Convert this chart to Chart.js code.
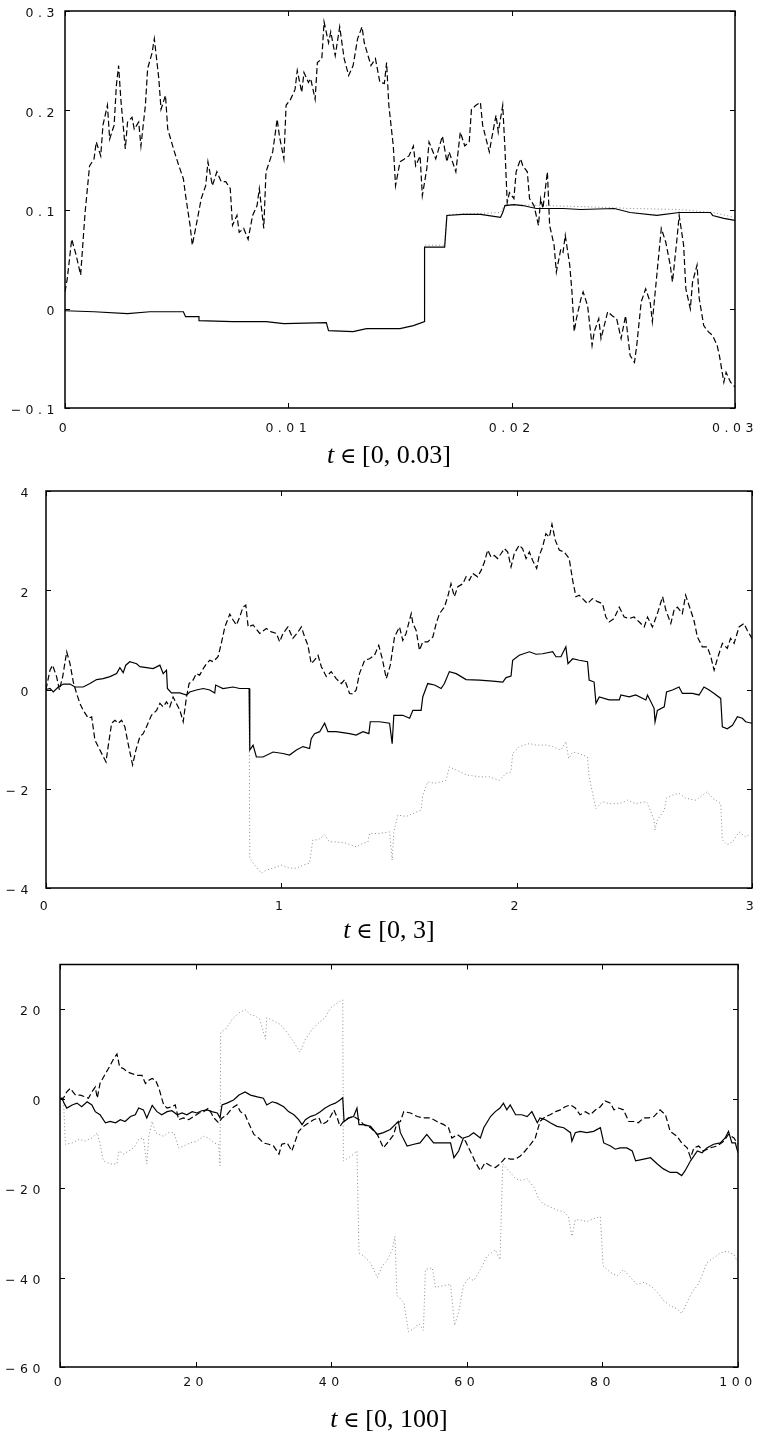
<!DOCTYPE html>
<html>
<head>
<meta charset="utf-8">
<script src="https://cdn.jsdelivr.net/npm/chart.js@4.4.1/dist/chart.umd.min.js"></script>
<style>
    body   { margin:0 ; background:#fff ; width:763px ; height:1435px ; position:relative ; overflow:hidden ; }
    canvas { position:absolute ; left:0 ; }
</style>
</head>
<body>
<canvas id="panel1" width="763" height="470" style="top:0px"></canvas>
<canvas id="panel2" width="763" height="480" style="top:470px"></canvas>
<canvas id="panel3" width="763" height="485" style="top:950px"></canvas>
<script>
// ---------------- Data : panel 1, t in [0, 0.03] -----------------------------
const p1XTicks  = [ 0, 0.01, 0.02, 0.03 ] ;
const p1XLabels = [ '0', '0.01', '0.02', '0.03' ] ;
const p1YTicks  = [ -0.1, 0, 0.1, 0.2, 0.3 ] ;
const p1YLabels = [ '\u22120.1', '0', '0.1', '0.2', '0.3' ] ;

const p1Solid = [
    [0,-0.002],[0.0013,-0.003],[0.0028,-0.005],[0.0038,-0.003],[0.0053,-0.003],[0.0054,-0.008],
    [0.0060,-0.008],[0.0060,-0.012],[0.0075,-0.013],[0.0090,-0.013],[0.0098,-0.015],[0.0117,-0.014],
    [0.0118,-0.022],[0.0129,-0.023],[0.0135,-0.020],[0.0150,-0.020],[0.0156,-0.017],[0.0161,-0.013],
    [0.0161,0.062],[0.0170,0.062],[0.0171,0.094],[0.0178,0.095],[0.0186,0.095],[0.0195,0.092],
    [0.0196,0.097],[0.0197,0.104],[0.0201,0.105],[0.0205,0.104],[0.0211,0.101],[0.0223,0.101],
    [0.0231,0.100],[0.0246,0.101],[0.0253,0.097],[0.0265,0.094],[0.0275,0.097],[0.0289,0.097],
    [0.0290,0.094],[0.0295,0.091],[0.0300,0.089]
] ;
const p1Dashed = [
    [0,0.017],[0.0001,0.030],[0.0003,0.070],[0.0005,0.054],[0.0007,0.034],[0.0009,0.097],[0.0011,0.144],
    [0.0013,0.151],[0.0014,0.168],[0.0016,0.154],[0.0017,0.185],[0.0019,0.205],[0.0020,0.171],[0.0022,0.185],
    [0.0023,0.225],[0.0024,0.245],[0.0025,0.211],[0.0027,0.161],[0.0028,0.188],[0.0030,0.193],[0.0031,0.181],
    [0.0033,0.188],[0.0034,0.164],[0.0036,0.205],[0.0037,0.242],[0.0039,0.258],[0.0040,0.272],[0.0042,0.232],
    [0.0043,0.201],[0.0045,0.215],[0.0046,0.181],[0.0049,0.158],[0.0051,0.144],[0.0053,0.131],[0.0054,0.114],
    [0.0056,0.084],[0.0057,0.064],[0.0059,0.087],[0.0061,0.111],[0.0063,0.124],[0.0064,0.148],[0.0066,0.124],
    [0.0068,0.138],[0.0070,0.128],[0.0072,0.128],[0.0074,0.121],[0.0075,0.084],[0.0077,0.094],[0.0078,0.077],
    [0.0080,0.081],[0.0082,0.070],[0.0084,0.094],[0.0086,0.104],[0.0087,0.121],[0.0089,0.081],[0.0090,0.138],
    [0.0093,0.158],[0.0095,0.191],[0.0096,0.174],[0.0098,0.151],[0.0099,0.205],[0.0101,0.211],[0.0103,0.221],
    [0.0104,0.240],[0.0106,0.218],[0.0107,0.238],[0.0109,0.228],[0.0110,0.232],[0.0112,0.211],[0.0113,0.248],
    [0.0115,0.252],[0.0116,0.289],[0.0118,0.268],[0.0119,0.279],[0.0121,0.255],[0.0123,0.284],[0.0125,0.252],
    [0.0127,0.235],[0.0129,0.245],[0.0131,0.272],[0.0133,0.284],[0.0134,0.268],[0.0137,0.245],[0.0139,0.252],
    [0.0141,0.228],[0.0143,0.227],[0.0144,0.248],[0.0145,0.205],[0.0147,0.164],[0.0148,0.124],[0.0150,0.148],
    [0.0152,0.151],[0.0154,0.154],[0.0156,0.164],[0.0157,0.144],[0.0159,0.154],[0.0160,0.114],[0.0162,0.141],
    [0.0163,0.168],[0.0166,0.151],[0.0169,0.174],[0.0171,0.148],[0.0172,0.158],[0.0175,0.138],[0.0177,0.178],
    [0.0179,0.164],[0.0181,0.168],[0.0182,0.201],[0.0184,0.205],[0.0186,0.208],[0.0187,0.185],[0.0190,0.158],
    [0.0191,0.171],[0.0193,0.195],[0.0194,0.178],[0.0196,0.205],[0.0197,0.161],[0.0198,0.107],[0.0199,0.117],
    [0.0201,0.111],[0.0202,0.138],[0.0204,0.151],[0.0205,0.144],[0.0207,0.138],[0.0208,0.111],[0.0210,0.104],
    [0.0212,0.084],[0.0213,0.111],[0.0214,0.101],[0.0216,0.138],[0.0217,0.084],[0.0219,0.064],[0.0220,0.037],
    [0.0222,0.060],[0.0223,0.057],[0.0224,0.074],[0.0226,0.044],[0.0227,0.017],[0.0228,-0.023],[0.0229,-0.010],
    [0.0231,0.010],[0.0232,0.017],[0.0234,0.003],[0.0236,-0.037],[0.0237,-0.023],[0.0239,-0.010],[0.0240,-0.030],
    [0.0243,-0.003],[0.0245,-0.007],[0.0247,-0.010],[0.0249,-0.030],[0.0251,-0.007],[0.0253,-0.047],[0.0255,-0.054],
    [0.0256,-0.037],[0.0258,0.007],[0.0260,0.020],[0.0262,0.007],[0.0263,-0.013],[0.0265,0.034],[0.0267,0.081],
    [0.0269,0.067],[0.0271,0.044],[0.0272,0.027],[0.0274,0.070],[0.0275,0.094],[0.0277,0.064],[0.0278,0.020],
    [0.0280,0.000],[0.0281,0.027],[0.0283,0.044],[0.0284,0.010],[0.0286,-0.017],[0.0288,-0.023],[0.0290,-0.027],
    [0.0292,-0.037],[0.0293,-0.047],[0.0295,-0.074],[0.0296,-0.064],[0.0298,-0.074],[0.0300,-0.079]
] ;
const p1Dotted = [
    [0.0161,-0.013],[0.0161,0.064],[0.0170,0.064],[0.0171,0.095],[0.0186,0.096],[0.0195,0.097],
    [0.0197,0.105],[0.0231,0.103],[0.0254,0.101],[0.0275,0.100],[0.0290,0.097],[0.0300,0.092]
] ;

// ---------------- Data : panel 2, t in [0, 3] --------------------------------
const p2XTicks  = [ 0, 1, 2, 3 ] ;
const p2XLabels = [ '0', '1', '2', '3' ] ;
const p2YTicks  = [ -4, -2, 0, 2, 4 ] ;
const p2YLabels = [ '\u22124', '\u22122', '0', '2', '4' ] ;

const p2Solid = [
    [0,0],[0.017,0.02],[0.031,-0.05],[0.052,0.05],[0.074,0.11],[0.102,0.11],[0.123,0.05],[0.158,0.05],
    [0.187,0.12],[0.215,0.20],[0.243,0.22],[0.272,0.26],[0.300,0.32],[0.314,0.44],[0.328,0.34],[0.339,0.49],
    [0.356,0.56],[0.385,0.52],[0.399,0.46],[0.427,0.44],[0.455,0.42],[0.484,0.49],[0.498,0.32],[0.512,0.39],
    [0.516,0.02],[0.533,-0.07],[0.569,-0.07],[0.597,-0.11],[0.611,-0.05],[0.639,-0.01],[0.668,0.02],[0.696,-0.01],
    [0.717,-0.07],[0.721,0.09],[0.752,0.02],[0.795,0.05],[0.823,0.02],[0.863,0.02],[0.866,-1.22],[0.880,-1.12],
    [0.894,-1.36],[0.922,-1.36],[0.965,-1.26],[1.007,-1.29],[1.035,-1.32],[1.064,-1.22],[1.092,-1.15],[1.120,-1.19],
    [1.127,-0.99],[1.141,-0.89],[1.163,-0.85],[1.184,-0.68],[1.198,-0.85],[1.233,-0.85],[1.290,-0.89],[1.318,-0.92],
    [1.347,-0.85],[1.372,-0.89],[1.378,-0.65],[1.417,-0.65],[1.460,-0.68],[1.471,-1.09],[1.478,-0.52],[1.516,-0.52],
    [1.545,-0.58],[1.559,-0.42],[1.594,-0.42],[1.601,-0.15],[1.622,0.12],[1.651,0.09],[1.679,0.02],[1.693,0.12],
    [1.714,0.36],[1.743,0.32],[1.785,0.20],[1.842,0.19],[1.898,0.17],[1.941,0.15],[1.955,0.24],[1.976,0.27],
    [1.983,0.59],[2.011,0.69],[2.054,0.76],[2.082,0.71],[2.110,0.72],[2.153,0.76],[2.167,0.66],[2.188,0.66],
    [2.209,0.86],[2.218,0.52],[2.238,0.62],[2.266,0.59],[2.301,0.56],[2.308,0.19],[2.329,0.15],[2.337,-0.28],
    [2.351,-0.15],[2.393,-0.21],[2.436,-0.21],[2.443,-0.11],[2.478,-0.15],[2.506,-0.11],[2.549,-0.21],[2.556,-0.11],
    [2.584,-0.38],[2.588,-0.65],[2.598,-0.42],[2.627,-0.35],[2.637,-0.05],[2.662,-0.01],[2.690,0.05],[2.704,-0.08],
    [2.747,-0.08],[2.775,-0.11],[2.796,0.05],[2.818,-0.01],[2.839,-0.08],[2.867,-0.18],[2.874,-0.75],[2.895,-0.79],
    [2.917,-0.72],[2.938,-0.55],[2.959,-0.58],[2.973,-0.65],[3.0,-0.68]
] ;
const p2Dashed = [
    [0,0],[0.017,0.39],[0.028,0.49],[0.045,0.26],[0.057,-0.01],[0.071,0.26],[0.088,0.76],[0.102,0.52],
    [0.116,0.15],[0.130,-0.08],[0.144,-0.28],[0.158,-0.42],[0.180,-0.58],[0.194,-0.55],[0.208,-1.02],[0.229,-1.22],
    [0.255,-1.46],[0.264,-1.15],[0.279,-0.68],[0.293,-0.62],[0.307,-0.68],[0.321,-0.62],[0.335,-0.75],[0.349,-1.09],
    [0.368,-1.52],[0.382,-1.22],[0.399,-0.95],[0.413,-0.89],[0.427,-0.75],[0.448,-0.52],[0.470,-0.42],[0.484,-0.28],
    [0.498,-0.35],[0.512,-0.25],[0.526,-0.35],[0.540,-0.15],[0.554,-0.28],[0.569,-0.42],[0.583,-0.65],[0.597,-0.15],
    [0.608,0.12],[0.625,0.19],[0.639,0.32],[0.653,0.29],[0.668,0.42],[0.682,0.52],[0.696,0.59],[0.710,0.56],
    [0.731,0.66],[0.745,0.93],[0.760,1.26],[0.781,1.52],[0.795,1.40],[0.809,1.30],[0.823,1.46],[0.837,1.66],
    [0.849,1.70],[0.859,1.26],[0.880,1.30],[0.908,1.13],[0.936,1.23],[0.958,1.16],[0.979,1.13],[0.993,0.96],
    [1.007,1.13],[1.028,1.26],[1.049,1.03],[1.071,1.16],[1.085,1.26],[1.099,1.06],[1.113,0.89],[1.127,0.52],
    [1.141,0.59],[1.156,0.69],[1.170,0.46],[1.191,0.26],[1.212,0.36],[1.233,0.22],[1.255,0.12],[1.269,0.20],
    [1.290,-0.08],[1.304,-0.09],[1.318,-0.01],[1.332,0.32],[1.354,0.59],[1.375,0.62],[1.396,0.69],[1.414,0.89],
    [1.429,0.62],[1.446,0.22],[1.463,0.49],[1.481,1.06],[1.502,1.26],[1.516,0.99],[1.530,1.13],[1.552,1.53],
    [1.559,1.33],[1.573,1.19],[1.587,0.79],[1.601,0.96],[1.622,0.96],[1.644,1.06],[1.658,1.33],[1.672,1.53],
    [1.693,1.66],[1.707,1.87],[1.721,2.13],[1.735,1.87],[1.750,2.07],[1.771,2.13],[1.785,2.27],[1.799,2.20],
    [1.813,2.34],[1.834,2.27],[1.849,2.40],[1.863,2.57],[1.877,2.81],[1.891,2.67],[1.905,2.70],[1.919,2.64],
    [1.934,2.74],[1.948,2.84],[1.962,2.77],[1.976,2.47],[1.990,2.74],[2.011,2.91],[2.025,2.84],[2.040,2.64],
    [2.054,2.77],[2.068,2.60],[2.085,2.44],[2.096,2.70],[2.110,2.87],[2.124,3.14],[2.139,3.07],[2.150,3.33],
    [2.164,3.01],[2.181,2.81],[2.202,2.77],[2.223,2.64],[2.238,2.20],[2.252,1.87],[2.266,1.90],[2.280,1.83],
    [2.301,1.73],[2.322,1.83],[2.344,1.77],[2.365,1.73],[2.379,1.46],[2.393,1.36],[2.414,1.43],[2.436,1.66],
    [2.457,1.46],[2.478,1.43],[2.499,1.46],[2.521,1.36],[2.542,1.26],[2.556,1.46],[2.577,1.26],[2.598,1.53],
    [2.620,1.87],[2.634,1.60],[2.655,1.33],[2.669,1.60],[2.683,1.66],[2.704,1.53],[2.718,1.90],[2.739,1.60],
    [2.753,1.40],[2.768,1.06],[2.789,0.86],[2.810,0.86],[2.825,0.66],[2.839,0.39],[2.853,0.62],[2.874,0.93],
    [2.895,0.83],[2.909,1.03],[2.924,0.93],[2.945,1.26],[2.966,1.33],[2.980,1.19],[3.0,1.03]
] ;
const p2Dotted = [
    [0.863,0.02],[0.866,-3.40],[0.887,-3.54],[0.915,-3.70],[0.936,-3.64],[0.965,-3.60],[1.000,-3.54],[1.035,-3.60],
    [1.064,-3.60],[1.092,-3.54],[1.120,-3.50],[1.134,-3.03],[1.156,-3.03],[1.184,-2.93],[1.205,-3.07],[1.233,-3.07],
    [1.276,-3.10],[1.318,-3.17],[1.347,-3.10],[1.368,-3.07],[1.375,-2.90],[1.417,-2.90],[1.460,-2.87],[1.471,-3.44],
    [1.478,-2.87],[1.495,-2.53],[1.530,-2.56],[1.559,-2.50],[1.594,-2.43],[1.601,-2.13],[1.622,-1.86],[1.651,-1.89],
    [1.679,-1.86],[1.700,-1.83],[1.714,-1.56],[1.743,-1.62],[1.785,-1.72],[1.842,-1.76],[1.884,-1.76],[1.926,-1.83],
    [1.955,-1.69],[1.976,-1.66],[1.983,-1.29],[2.011,-1.15],[2.054,-1.09],[2.082,-1.12],[2.124,-1.12],[2.153,-1.15],
    [2.188,-1.22],[2.209,-1.05],[2.221,-1.39],[2.238,-1.26],[2.266,-1.29],[2.301,-1.36],[2.308,-1.76],[2.329,-2.23],
    [2.337,-2.40],[2.365,-2.26],[2.393,-2.30],[2.436,-2.30],[2.471,-2.23],[2.506,-2.30],[2.549,-2.26],[2.556,-2.30],
    [2.584,-2.63],[2.588,-2.83],[2.598,-2.63],[2.627,-2.43],[2.637,-2.19],[2.662,-2.13],[2.690,-2.09],[2.718,-2.19],
    [2.761,-2.23],[2.810,-2.06],[2.832,-2.19],[2.867,-2.30],[2.874,-3.03],[2.895,-3.13],[2.917,-3.07],[2.945,-2.87],
    [2.973,-2.97],[2.987,-2.93]
] ;

// ---------------- Data : panel 3, t in [0, 100] ------------------------------
const p3XTicks  = [ 0, 20, 40, 60, 80, 100 ] ;
const p3XLabels = [ '0', '20', '40', '60', '80', '100' ] ;
const p3YTicks  = [ -60, -40, -20, 0, 20 ] ;
const p3YLabels = [ '\u221260', '\u221240', '\u221220', '0', '20' ] ;

const p3Solid = [
    [0,0],[0.3,0.1],[0.6,-1.0],[1.0,-2.1],[1.8,-1.4],[2.5,-1.0],[3.2,-1.8],[4.0,-0.7],[4.7,-1.4],[5.2,-2.9],
    [5.9,-3.6],[6.7,-5.4],[7.4,-5.1],[8.2,-5.4],[8.9,-4.7],[9.6,-5.1],[10.4,-4.0],[11.1,-3.6],[11.6,-2.1],
    [12.3,-2.5],[12.8,-4.3],[13.6,-1.5],[14.3,-2.9],[15.0,-3.6],[15.8,-2.9],[16.5,-2.7],[17.3,-3.6],[18.0,-3.2],
    [18.7,-3.6],[19.5,-2.9],[20.2,-3.2],[20.9,-2.7],[21.7,-2.5],[22.4,-2.9],[23.2,-3.2],[23.6,-4.3],[23.9,-1.4],
    [24.6,-1.0],[25.6,-0.3],[26.4,0.8],[27.3,1.5],[28.1,0.8],[29.1,0.4],[30.0,0.1],[30.5,-1.4],[31.3,-0.7],
    [32.0,-1.0],[33.0,-1.8],[33.7,-2.9],[34.5,-3.6],[35.2,-4.7],[35.7,-5.8],[36.2,-4.7],[36.9,-4.0],[37.7,-3.6],
    [38.4,-2.9],[39.1,-2.1],[39.9,-1.4],[40.6,-1.0],[41.3,-0.3],[41.7,0.2],[41.9,-5.1],[42.6,-4.3],[43.3,-4.0],
    [43.8,-2.1],[44.1,-5.8],[44.8,-5.8],[45.8,-6.2],[46.8,-8.0],[47.7,-7.6],[48.7,-6.9],[49.7,-5.4],[49.9,-5.1],
    [50.2,-7.6],[51.2,-10.6],[52.2,-10.2],[53.1,-9.9],[54.1,-8.0],[55.1,-9.9],[57.1,-9.9],[57.6,-9.9],[58.1,-13.2],
    [58.8,-11.7],[59.5,-8.8],[60.3,-8.4],[61.0,-7.6],[62.0,-8.8],[62.5,-6.5],[63.5,-4.0],[64.2,-2.9],[64.9,-2.1],
    [65.4,-1.0],[65.9,-2.5],[66.4,-1.4],[67.2,-3.6],[68.1,-3.6],[68.9,-4.0],[69.6,-2.9],[70.4,-5.4],[70.8,-4.3],
    [71.6,-4.7],[72.3,-5.4],[73.3,-6.2],[74.3,-6.5],[75.3,-7.6],[75.5,-9.5],[76.0,-7.6],[76.7,-7.3],[77.7,-7.6],
    [78.7,-7.3],[79.7,-6.5],[80.2,-9.9],[81.2,-10.6],[81.9,-11.3],[82.6,-11.0],[83.6,-11.0],[84.4,-11.7],
    [84.9,-13.9],[86.1,-13.5],[87.1,-13.2],[88.1,-14.6],[89.0,-15.7],[90.0,-16.5],[91.0,-16.5],[91.7,-17.2],
    [92.2,-16.1],[93.0,-13.9],[94.0,-11.7],[94.7,-12.1],[95.4,-11.0],[96.4,-10.2],[97.4,-9.9],[98.1,-8.8],
    [98.6,-7.3],[99.1,-9.9],[99.6,-9.9],[100,-12.1]
] ;
const p3Dashed = [
    [0,0],[0.5,0.1],[1.0,1.5],[1.5,2.3],[2.3,0.8],[3.0,0.8],[3.7,0.4],[4.2,0.1],[4.7,1.5],[5.2,2.6],[5.5,0.1],
    [5.9,3.4],[6.7,5.6],[7.4,7.4],[7.9,8.9],[8.4,10.0],[8.8,7.1],[9.4,6.7],[9.9,6.0],[10.6,5.6],[11.4,5.2],
    [12.1,5.2],[12.6,3.4],[13.1,4.1],[13.6,4.5],[14.1,4.1],[14.6,2.3],[15.0,0.1],[15.3,-1.4],[15.8,-2.1],
    [16.5,-1.8],[17.0,-1.4],[17.5,-4.7],[18.2,-4.3],[19.0,-4.7],[19.7,-4.0],[20.5,-3.2],[21.2,-2.9],[21.9,-2.1],
    [22.7,-4.3],[23.4,-5.4],[23.9,-4.3],[24.6,-3.6],[25.4,-2.1],[26.1,-1.4],[26.6,-2.9],[27.3,-3.6],[27.8,-5.4],
    [28.6,-8.0],[29.3,-8.8],[30.0,-9.9],[30.8,-10.2],[31.5,-10.6],[32.3,-12.4],[32.7,-10.2],[33.5,-9.9],
    [34.2,-11.7],[34.7,-9.5],[35.2,-7.3],[35.9,-6.2],[36.7,-5.4],[37.4,-4.7],[38.2,-4.3],[38.6,-5.8],[39.4,-5.1],
    [39.9,-4.0],[40.4,-2.5],[40.9,-4.3],[41.3,-6.2],[41.8,-5.1],[42.6,-4.3],[43.3,-4.0],[44.1,-4.7],[44.8,-5.8],
    [45.8,-6.5],[46.8,-8.0],[47.7,-11.0],[48.5,-9.5],[49.2,-8.1],[49.7,-5.4],[50.2,-5.1],[50.7,-2.9],[51.7,-3.2],
    [52.7,-4.0],[53.6,-4.3],[54.6,-4.3],[55.6,-5.1],[56.6,-5.8],[57.3,-6.5],[57.8,-8.8],[58.6,-8.0],[59.3,-8.8],
    [59.8,-9.5],[60.5,-11.7],[61.3,-14.3],[62.0,-16.1],[62.7,-14.3],[63.5,-15.0],[64.2,-15.4],[64.9,-14.6],
    [65.7,-13.2],[66.4,-13.5],[67.2,-13.5],[67.9,-12.8],[68.6,-11.7],[69.4,-10.2],[70.1,-8.8],[70.8,-5.1],
    [71.6,-4.0],[72.3,-3.6],[73.1,-2.9],[73.8,-2.5],[74.5,-1.8],[75.3,-1.4],[76.0,-2.1],[76.7,-3.6],[77.5,-2.9],
    [78.2,-3.6],[79.0,-2.5],[79.7,-1.8],[80.4,-0.5],[81.2,-1.0],[81.7,-2.5],[82.4,-2.1],[83.1,-2.5],[83.9,-5.1],
    [84.6,-5.1],[85.3,-5.4],[86.1,-4.3],[86.8,-4.3],[87.6,-4.0],[88.5,-2.5],[89.3,-3.6],[90.0,-7.3],[91.0,-8.4],
    [91.7,-9.9],[92.5,-11.0],[93.0,-13.2],[93.5,-11.0],[94.2,-10.6],[94.9,-11.7],[95.9,-11.0],[96.9,-10.6],
    [97.9,-9.5],[98.6,-8.0],[99.4,-8.8],[100,-10.2]
] ;
const p3Dotted = [
    [0,0],[0.5,0.1],[0.8,-10.2],[1.8,-9.9],[2.8,-9.1],[3.7,-9.5],[4.7,-8.8],[5.5,-7.6],[5.9,-10.2],[6.4,-13.9],
    [7.4,-14.6],[8.4,-14.6],[8.7,-11.7],[9.4,-12.4],[10.1,-11.7],[10.9,-11.0],[11.6,-9.1],[12.3,-8.8],[12.8,-14.6],
    [13.1,-8.4],[13.6,-5.1],[14.1,-7.6],[14.6,-8.0],[15.3,-8.4],[16.0,-7.6],[16.8,-7.6],[17.5,-11.0],[18.2,-10.6],
    [19.2,-9.9],[20.2,-9.5],[21.2,-8.4],[21.9,-8.8],[22.7,-9.9],[23.4,-10.2],[23.6,-15.0],[23.7,14.8],[24.4,15.5],
    [25.4,17.7],[26.4,19.2],[27.3,19.9],[28.1,18.8],[28.8,18.5],[29.5,17.7],[30.3,13.3],[30.5,18.1],[31.5,17.4],
    [32.5,16.6],[33.5,14.8],[34.5,12.6],[35.4,10.4],[36.2,13.3],[37.2,15.5],[38.2,17.0],[39.1,18.1],[39.9,20.3],
    [40.9,21.4],[41.7,22.1],[41.8,-13.9],[42.6,-13.2],[43.3,-12.4],[43.8,-11.7],[44.1,-34.5],[44.8,-35.2],
    [45.8,-36.7],[46.8,-40.0],[47.5,-37.4],[48.2,-36.3],[49.0,-33.8],[49.4,-30.8],[49.7,-44.0],[50.7,-45.5],
    [51.4,-52.1],[52.2,-51.4],[52.9,-50.3],[53.6,-51.8],[53.9,-38.2],[54.9,-37.8],[55.4,-42.2],[56.6,-41.8],
    [57.6,-41.5],[58.2,-50.7],[58.8,-47.7],[59.5,-41.8],[60.3,-40.0],[61.0,-40.7],[62.0,-38.2],[63.0,-35.2],
    [64.2,-33.8],[64.9,-36.0],[65.3,-14.6],[66.2,-16.1],[67.2,-17.9],[68.1,-18.3],[68.9,-17.9],[69.9,-19.8],
    [70.6,-22.4],[71.3,-23.5],[72.3,-24.2],[73.3,-24.9],[74.3,-25.3],[75.0,-26.4],[75.5,-30.8],[76.0,-27.1],
    [76.7,-27.1],[77.7,-27.5],[78.7,-26.8],[79.7,-26.4],[80.1,-37.4],[81.2,-38.9],[82.2,-39.6],[83.1,-38.2],
    [84.4,-40.4],[85.1,-41.5],[86.1,-41.1],[87.1,-41.8],[88.1,-43.3],[89.0,-45.1],[90.0,-46.3],[91.0,-47.0],
    [91.7,-48.1],[92.5,-45.5],[93.2,-43.3],[94.0,-41.8],[94.7,-39.6],[95.4,-36.7],[96.4,-35.6],[97.4,-34.5],
    [98.4,-34.1],[99.4,-34.9],[100,-36.7]
] ;

// ---------------- Plugin : frame, inward ticks and the t-axis caption --------
const framePlugin = {
    id : 'frame',
    beforeDraw : function( chart ) {
        chart.ctx.letterSpacing = '4.5px' ;
    },
    afterDraw : function( chart, args, opts ) {

        var ctx = chart.ctx ;
        var a   = chart.chartArea ;
        var xs  = chart.scales.x ;
        var ys  = chart.scales.y ;
        const TICK = 5 ;

        ctx.save() ;
        ctx.letterSpacing = '0px' ;
        ctx.strokeStyle = '#000' ;

        ctx.lineWidth = 1 ;
        ctx.beginPath() ;
        opts.xTicks.forEach( function( v ) {
            var px = Math.round( xs.getPixelForValue( v ) ) + 0.5 ;
            ctx.moveTo( px, a.bottom ) ; ctx.lineTo( px, a.bottom - TICK ) ;
            ctx.moveTo( px, a.top    ) ; ctx.lineTo( px, a.top + TICK ) ;
        } ) ;
        opts.yTicks.forEach( function( v ) {
            var py = Math.round( ys.getPixelForValue( v ) ) + 0.5 ;
            ctx.moveTo( a.left,  py ) ; ctx.lineTo( a.left + TICK,  py ) ;
            ctx.moveTo( a.right, py ) ; ctx.lineTo( a.right - TICK, py ) ;
        } ) ;
        ctx.stroke() ;

        ctx.lineWidth = 1.5 ;
        ctx.strokeRect( a.left, a.top, a.right - a.left, a.bottom - a.top ) ;

        // caption : italic t, relation sign, then the interval
        var size   = 26 ;
        var roman  = size + 'px "Liberation Serif"' ;
        var italic = 'italic ' + roman ;
        var relSign = '200 22px "DejaVu Sans", "DejaVu Serif"' ;
        var gap = size * 0.22 ;
        ctx.fillStyle = '#000' ;
        ctx.textBaseline = 'alphabetic' ;
        ctx.textAlign = 'left' ;

        ctx.font = italic ;  var wT  = ctx.measureText( 't' ).width ;
        ctx.font = relSign ; var wIn = ctx.measureText( '\u2208' ).width ;
        ctx.font = roman ;   var wR  = ctx.measureText( opts.caption ).width ;
        var total = wT + gap + wIn + gap + wR ;
        var x = opts.captionX - total / 2 ;

        ctx.font = italic ;  ctx.fillText( 't', x, opts.captionY ) ;
        x += wT + gap ;
        ctx.font = relSign ; ctx.fillText( '\u2208', x, opts.captionY ) ;
        x += wIn + gap ;
        ctx.font = roman ;   ctx.fillText( opts.caption, x, opts.captionY ) ;

        ctx.restore() ;
    }
} ;

// ---------------- Chart creation ---------------------------------------------
function toPoints( pairs ) {
    return pairs.map( function( p ) { return { x : p[0], y : p[1] } ; } ) ;
}

function solidDataset( pairs ) {
    return { data : toPoints( pairs ), borderColor : '#000', borderWidth : 1.2,
             pointRadius : 0, tension : 0 } ;
}
function dashedDataset( pairs ) {
    return { data : toPoints( pairs ), borderColor : '#000', borderWidth : 1.2,
             borderDash : [ 6, 3 ], pointRadius : 0, tension : 0 } ;
}
function dottedDataset( pairs ) {
    return { data : toPoints( pairs ), borderColor : '#8a8a8a', borderWidth : 1,
             borderDash : [ 1, 2.5 ], pointRadius : 0, tension : 0 } ;
}

function drawPanel( cfg ) {

    var tickFont = { family : '"DejaVu Sans"', size : 12.5 } ;

    return new Chart( document.getElementById( cfg.id ), {
        type : 'line',
        data : {
            datasets : [
                solidDataset ( cfg.solid  ),
                dashedDataset( cfg.dashed ),
                dottedDataset( cfg.dotted ),
            ]
        },
        options : {
            responsive : false,
            animation : false,
            events : [],
            layout : { padding : { left : 0, top : cfg.padTop, right : cfg.padRight, bottom : 0 } },
            plugins : {
                legend  : { display : false },
                tooltip : { enabled : false },
                frame : {
                    xTicks : cfg.xTicks, yTicks : cfg.yTicks,
                    caption : cfg.caption, captionX : 389, captionY : cfg.captionY
                }
            },
            scales : {
                x : {
                    type : 'linear',
                    min : cfg.xTicks[0], max : cfg.xTicks[ cfg.xTicks.length - 1 ],
                    grid : { display : false }, border : { display : false },
                    afterBuildTicks : function( s ) { s.ticks = cfg.xTicks.map( function( v ) { return { value : v } ; } ) ; },
                    afterFit : function( s ) { s.height = cfg.xAxisHeight ; },
                    ticks : {
                        autoSkip : false, maxRotation : 0, padding : cfg.xPad,
                        color : '#111', font : tickFont,
                        callback : function( v ) { return cfg.xLabels[ cfg.xTicks.indexOf( v ) ] ; }
                    }
                },
                y : {
                    min : cfg.yMin, max : cfg.yMax,
                    grid : { display : false }, border : { display : false },
                    afterBuildTicks : function( s ) { s.ticks = cfg.yTicks.map( function( v ) { return { value : v } ; } ) ; },
                    afterFit : function( s ) { s.width = cfg.yAxisWidth ; },
                    ticks : {
                        autoSkip : false, padding : cfg.yPad, labelOffset : 3,
                        color : '#111', font : tickFont,
                        callback : function( v ) { return cfg.yLabels[ cfg.yTicks.indexOf( v ) ] ; }
                    }
                }
            }
        },
        plugins : [ framePlugin ]
    } ) ;
}

drawPanel( {
    id : 'panel1', solid : p1Solid, dashed : p1Dashed, dotted : p1Dotted,
    xTicks : p1XTicks, xLabels : p1XLabels, yTicks : p1YTicks, yLabels : p1YLabels,
    yMin : -0.1, yMax : 0.3,
    padTop : 11, padRight : 28, yAxisWidth : 65, xAxisHeight : 62, xPad : 5, yPad : -2,
    caption : '[0, 0.03]', captionY : 463
} ) ;

drawPanel( {
    id : 'panel2', solid : p2Solid, dashed : p2Dashed, dotted : p2Dotted,
    xTicks : p2XTicks, xLabels : p2XLabels, yTicks : p2YTicks, yLabels : p2YLabels,
    yMin : -4, yMax : 4,
    padTop : 21, padRight : 11, yAxisWidth : 46, xAxisHeight : 62, xPad : 3, yPad : 5,
    caption : '[0, 3]', captionY : 468
} ) ;

drawPanel( {
    id : 'panel3', solid : p3Solid, dashed : p3Dashed, dotted : p3Dotted,
    xTicks : p3XTicks, xLabels : p3XLabels, yTicks : p3YTicks, yLabels : p3YLabels,
    yMin : -60, yMax : 30,
    padTop : 9, padRight : 25, yAxisWidth : 60, xAxisHeight : 68, xPad : 0, yPad : 7,
    caption : '[0, 100]', captionY : 477
} ) ;
</script>
</body>
</html>
